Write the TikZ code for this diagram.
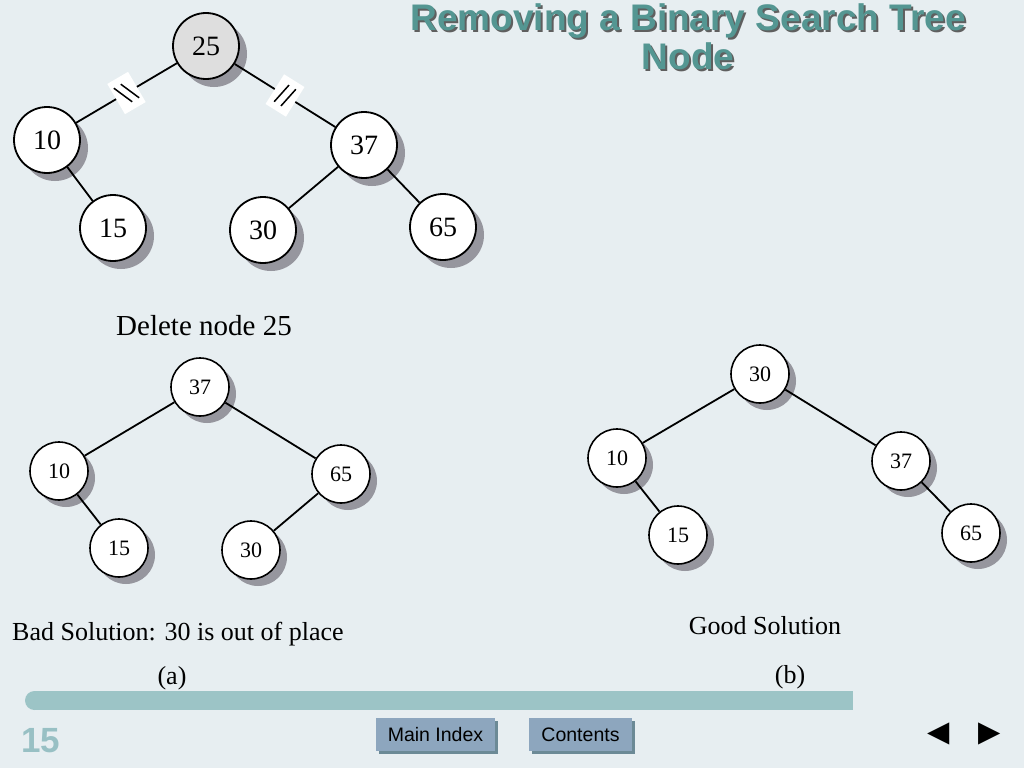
\documentclass[tikz,border=0pt]{standalone}
\usepackage{fontspec}
\setmainfont{Liberation Serif}
\newfontfamily\arialf{Liberation Sans}
\newfontfamily\dejavuf{DejaVu Sans}
\usetikzlibrary{shadows}
\definecolor{bgcol}{RGB}{231,238,241}
\definecolor{titlecol}{RGB}{84,150,146}
\definecolor{titleshadow}{RGB}{95,95,95}
\definecolor{shadowgray}{RGB}{150,150,158}
\definecolor{rootfill}{RGB}{222,222,222}
\definecolor{barcol}{RGB}{156,196,198}
\definecolor{pagecol}{RGB}{152,192,196}
\definecolor{btnfill}{RGB}{141,166,190}
\definecolor{btnshadow}{RGB}{108,138,150}
\tikzset{
  bigc/.style={circle, draw=black, line width=1.8pt, fill=white, minimum size=66pt, inner sep=0pt,
    font=\fontsize{28}{28}\selectfont,
    drop shadow={shadow xshift=8pt, shadow yshift=-8pt, fill=shadowgray, opacity=1}},
  smallc/.style={circle, draw=black, line width=1.6pt, fill=white, minimum size=58pt, inner sep=0pt,
    font=\fontsize{22}{22}\selectfont,
    drop shadow={shadow xshift=7pt, shadow yshift=-7pt, fill=shadowgray, opacity=1}},
  edge/.style={draw=black, line width=1.8pt},
  caption/.style={font=\fontsize{26}{26}\selectfont, inner sep=0pt},
  titletext/.style={font=\arialf\bfseries\fontsize{37}{37}\selectfont, inner sep=0pt, anchor=base},
  btn/.style={fill=btnfill, inner sep=0pt, font=\arialf\fontsize{19.5}{19.5}\selectfont,
    drop shadow={shadow xshift=3pt, shadow yshift=-3pt, fill=btnshadow, opacity=1}},
  brkbox/.style={fill=white, draw=none},
  brkline/.style={draw=black, line width=1.5pt},
  navarrow/.style={inner sep=0pt, font=\dejavuf\fontsize{29}{29}\selectfont}
}
\begin{document}
\begin{tikzpicture}[x=1pt,y=-1pt]
\useasboundingbox[fill=bgcol] (0,0) rectangle (1024,768);

% title
\node[titletext, text=titleshadow] (ts1) at (690,33) {Removing a Binary Search Tree};
\node[titletext, text=titleshadow] (ts2) at (690,71) {Node};
\node[titletext, text=titlecol] (title1) at (688,31) {Removing a Binary Search Tree};
\node[titletext, text=titlecol] (title2) at (688,69) {Node};

% top tree
\node[bigc, fill=rootfill] (t25) at (206,46) {25};
\node[bigc] (t10) at (47,140) {10};
\node[bigc] (t37) at (364,145) {37};
\node[bigc] (t15) at (113,228) {15};
\node[bigc] (t30) at (263,230) {30};
\node[bigc] (t65) at (443,227) {65};
\draw[edge] (t10) -- coordinate[pos=0.5] (b1) (t25);
\draw[edge] (t25) -- coordinate[pos=0.5] (b2) (t37);
\draw[edge] (t10) -- (t15);
\draw[edge] (t37) -- (t30);
\draw[edge] (t37) -- (t65);
\begin{scope}[shift={(b1)}, rotate=30.3]
  \fill[brkbox] (-12,-17.5) rectangle (12,17.5);
  \draw[brkline] (-8.5,-10.5) -- (0.5,10.5);
  \draw[brkline] (-0.5,-10.5) -- (8.5,10.5);
\end{scope}
\begin{scope}[shift={(b2)}, rotate=-32]
  \fill[brkbox] (-12,-17.5) rectangle (12,17.5);
  \draw[brkline] (-5.9,11) -- (-2.1,-11);
  \draw[brkline] (2.1,11) -- (5.9,-11);
\end{scope}

\node[caption, anchor=base, font=\fontsize{29}{29}\selectfont] (cap0) at (204,335) {Delete node 25};

% bad solution tree
\node[smallc] (a37) at (200,387) {37};
\node[smallc] (a10) at (59,471) {10};
\node[smallc] (a65) at (341,474) {65};
\node[smallc] (a15) at (119,548) {15};
\node[smallc] (a30) at (251,550) {30};
\draw[edge] (a37) -- (a10);
\draw[edge] (a37) -- (a65);
\draw[edge] (a10) -- (a15);
\draw[edge] (a65) -- (a30);

% good solution tree
\node[smallc] (b30) at (760,374) {30};
\node[smallc] (b10) at (617,458) {10};
\node[smallc] (b37) at (901,461) {37};
\node[smallc] (b15) at (678,535) {15};
\node[smallc] (b65) at (971,533) {65};
\draw[edge] (b30) -- (b10);
\draw[edge] (b30) -- (b37);
\draw[edge] (b10) -- (b15);
\draw[edge] (b37) -- (b65);

% captions
\node[caption, anchor=base west] (capa) at (12,640) {Bad Solution: 30 is out of place};
\node[caption, anchor=base] (capb) at (765,634) {Good Solution};
\node[caption, anchor=base] (la) at (172,684) {(a)};
\node[caption, anchor=base] (lb) at (790,683) {(b)};

% bottom bar
\fill[barcol] (34.5,691) rectangle (853,710);
\fill[barcol] (34.5,700.5) circle (9.5);

% page number
\node[anchor=base west, inner sep=0pt, text=pagecol, font=\arialf\bfseries\fontsize{35}{35}\selectfont] (pg) at (21,752) {15};

% buttons
\node[btn, minimum width=119pt, minimum height=33pt] (mainidx) at (435.5,734.5) {Main Index};
\node[btn, minimum width=103pt, minimum height=33pt] (contents) at (580.5,734.5) {Contents};

% navigation arrows
\node[navarrow] (prev) at (939,734) {◀};
\node[navarrow] (next) at (990,734) {▶};
\end{tikzpicture}
\end{document}
